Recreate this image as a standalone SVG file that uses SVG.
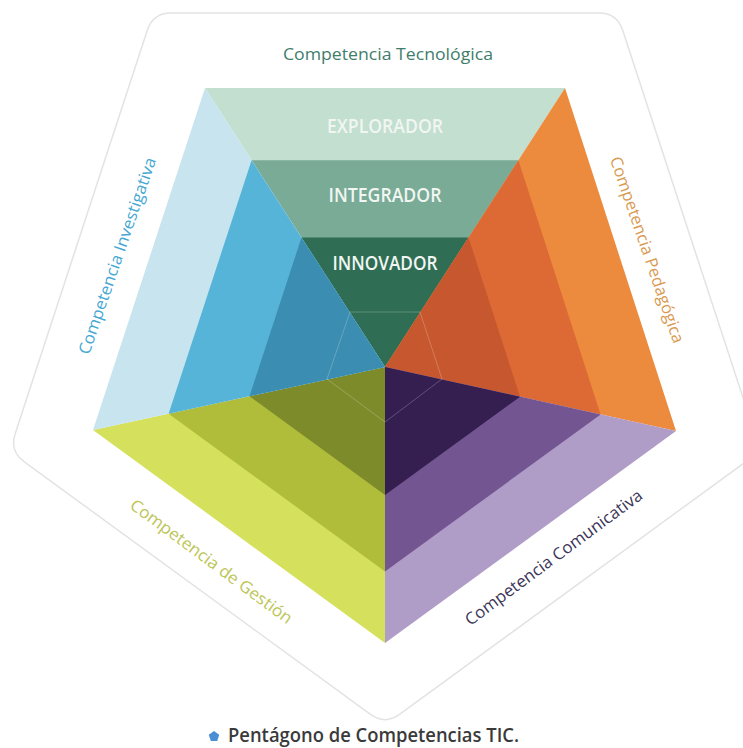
<svg xmlns="http://www.w3.org/2000/svg" width="743" height="748" viewBox="0 0 743 748">
<style>
text{font-family:"Open Sans","Liberation Sans",sans-serif}
.lvl{font-size:19px;font-weight:600;fill:#f1f6f2;text-anchor:middle}
.lab{font-size:16.5px;text-anchor:middle}
.faint{fill:none;stroke:#ffffff;stroke-opacity:0.22;stroke-width:1}
</style>
<rect width="743" height="748" fill="#ffffff"/>
<g id="frame">
<path d="M171,13 L599,13 Q617,13 622.6,30.1 L754.9,433.9 Q760.5,451 746,461.6 L399.5,714.4 Q385,725 370.5,714.4 L24,461.6 Q9.5,451 15.1,433.9 L147.4,30.1 Q153,13 171,13 Z" fill="none" stroke="#e3e3e3" stroke-width="1.5"/>
</g>
<g id="face-tecnologica">
<polygon points="205,88 565,88 385,367" fill="#c3dfd0"/>
<polygon points="251.6,160.3 518.4,160.3 385,367" fill="#79ab97"/>
<polygon points="301.5,237.5 468.5,237.5 385,367" fill="#2f6e55"/>
</g>
<g id="face-pedagogica">
<polygon points="565,88 676,431 385,367" fill="#ec8b3e"/>
<polygon points="518.4,160.3 600.6,414.4 385,367" fill="#dd6a35"/>
<polygon points="468.5,237.5 520,396.7 385,367" fill="#c6572e"/>
</g>
<g id="face-comunicativa">
<polygon points="676,431 385,643 385,367" fill="#af9cc7"/>
<polygon points="600.6,414.4 385,571.5 385,367" fill="#735591"/>
<polygon points="520,396.7 385,495.1 385,367" fill="#351f51"/>
</g>
<g id="face-gestion">
<polygon points="385,643 93,430 385,367" fill="#d5e05c"/>
<polygon points="385,571.5 168.6,413.7 385,367" fill="#afbd3b"/>
<polygon points="385,495.1 249.5,396.2 385,367" fill="#7e8b2b"/>
</g>
<g id="face-investigativa">
<polygon points="93,430 205,88 385,367" fill="#c8e4ee"/>
<polygon points="168.6,413.7 251.6,160.3 385,367" fill="#56b4d8"/>
<polygon points="249.5,396.2 301.5,237.5 385,367" fill="#3b8db1"/>
</g>
<g id="inner-pentagon">
<polygon class="faint" points="350,312 420,312 442,379 385,422 327,379"/>
</g>
<g id="levels">
<text class="lvl" x="385" y="133" textLength="116" lengthAdjust="spacingAndGlyphs">EXPLORADOR</text>
<text class="lvl" x="385" y="202" textLength="113" lengthAdjust="spacingAndGlyphs">INTEGRADOR</text>
<text class="lvl" x="385" y="270" textLength="105" lengthAdjust="spacingAndGlyphs">INNOVADOR</text>
</g>
<g id="label-tecnologica">
<text class="lab" x="388" y="60" fill="#3f7d6b" textLength="210" lengthAdjust="spacingAndGlyphs">Competencia Tecnológica</text>
</g>
<g id="label-investigativa">
<text class="lab" transform="translate(118,256) rotate(-71)" x="0" y="5" fill="#45a7d2" textLength="207" lengthAdjust="spacingAndGlyphs">Competencia Investigativa</text>
</g>
<g id="label-pedagogica">
<text class="lab" transform="translate(646.5,250) rotate(71)" x="0" y="5" fill="#d99a52" textLength="196" lengthAdjust="spacingAndGlyphs">Competencia Pedagógica</text>
</g>
<g id="label-comunicativa">
<text class="lab" transform="translate(554,558) rotate(-36.5)" x="0" y="5" fill="#3c3558" textLength="216" lengthAdjust="spacingAndGlyphs">Competencia Comunicativa</text>
</g>
<g id="label-gestion">
<text class="lab" transform="translate(211,562) rotate(36.5)" x="0" y="5" fill="#bcc556" textLength="197" lengthAdjust="spacingAndGlyphs">Competencia de Gestión</text>
</g>
<g id="caption">
<polygon points="214,731 219.2,734.8 217.2,740.9 210.8,740.9 208.8,734.8" fill="#4a8fd4"/>
<text x="228" y="742" font-size="19" font-weight="600" fill="#3a3a3a" textLength="291" lengthAdjust="spacingAndGlyphs">Pentágono de Competencias TIC.</text>
</g>
</svg>
